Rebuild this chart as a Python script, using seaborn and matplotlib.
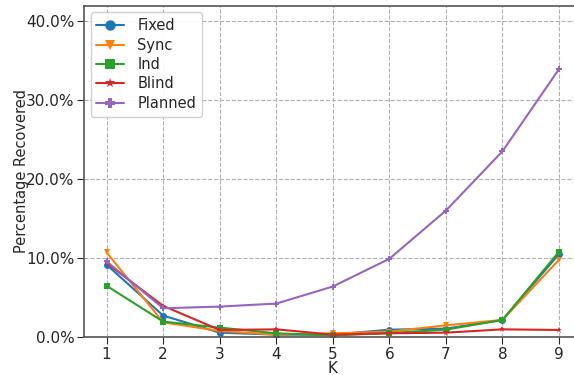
import matplotlib
matplotlib.use("Agg")
import matplotlib.pyplot as plt
import seaborn as sns
import pandas as pd
from matplotlib.ticker import PercentFormatter

K = [1, 2, 3, 4, 5, 6, 7, 8, 9]
fixed   = [9.15, 2.71, 0.55, 0.30, 0.30, 0.93, 1.06, 2.16, 10.5]
sync    = [10.7, 1.86, 0.76, 0.30, 0.47, 0.68, 1.48, 2.16, 9.78]
ind     = [6.48, 1.95, 1.19, 0.47, 0.20, 0.50, 0.93, 2.16, 10.8]
blind   = [9.36, 3.94, 0.89, 0.97, 0.30, 0.47, 0.55, 0.97, 0.89]
planned = [9.57, 3.64, 3.85, 4.23, 6.39, 9.90, 16.0, 23.5, 33.9]

names = ["Fixed", "Sync", "Ind", "Blind", "Planned"]
series = [fixed, sync, ind, blind, planned]
markers = {"Fixed": "o", "Sync": "v", "Ind": "s", "Blind": "*", "Planned": "P"}
colors = {"Fixed": "#1f77b4", "Sync": "#ff7f0e", "Ind": "#2ca02c",
          "Blind": "#d62728", "Planned": "#9467bd"}

rows = []
for n, s in zip(names, series):
    for k, v in zip(K, s):
        rows.append({"K": k, "value": v / 100.0, "method": n})
df = pd.DataFrame(rows)

sns.set_style("ticks")
plt.rcParams["font.family"] = ["DejaVu Sans"]

fig = plt.figure(figsize=(5.74, 3.75), dpi=100)
ax = fig.add_axes([0.1463, 0.1013, 0.867, 0.883])

sns.lineplot(data=df, x="K", y="value", hue="method", style="method",
             markers=markers, dashes=False, palette=colors,
             hue_order=names, style_order=names, ax=ax,
             markersize=5, markeredgewidth=0, linewidth=1.5)

ax.set_xlim(0.6, 9.4)
ax.set_ylim(0, 0.419)
ax.set_xticks(K)
ax.set_yticks([0, 0.1, 0.2, 0.3, 0.4])
ax.yaxis.set_major_formatter(PercentFormatter(1.0, decimals=1))
ax.grid(True, linestyle="--", color="#b0b0b0", linewidth=0.8)
ax.set_axisbelow(True)
for sp in ax.spines.values():
    sp.set_visible(True)
    sp.set_color("#555555")
    sp.set_linewidth(1.2)
ax.tick_params(labelsize=11, colors="#262626", length=5, pad=2)
ax.set_xlabel("K", fontsize=11, color="#262626", labelpad=-0.5)
ax.set_ylabel("Percentage Recovered", fontsize=10.5, color="#262626", labelpad=-2)

leg = ax.legend(loc="upper left", fontsize=10.5, markerscale=1.5,
                frameon=True, framealpha=0.9, edgecolor="#cccccc",
                handlelength=1.9, labelspacing=0.3, borderaxespad=0.45,
                handletextpad=0.9)

fig.savefig("out.png", dpi=100)
